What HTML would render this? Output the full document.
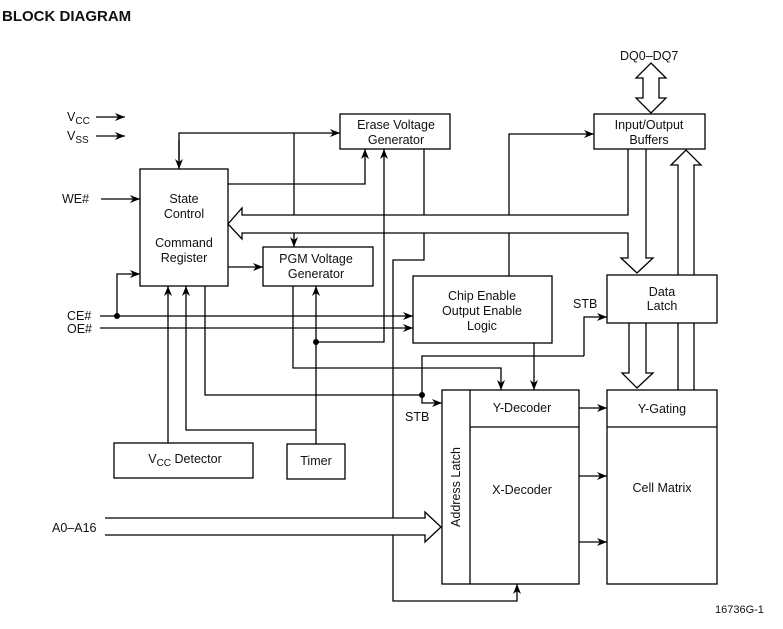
<!DOCTYPE html>
<html><head><style>body{margin:0;background:#fff}svg{display:block}text{font-family:"Liberation Sans",Arial,sans-serif;font-size:12.5px;fill:#111}</style></head>
<body>
<svg width="783" height="629" viewBox="0 0 783 629" xmlns="http://www.w3.org/2000/svg">
<defs><marker id="a" viewBox="0 0 10 8" refX="10" refY="4" markerWidth="10" markerHeight="8" orient="auto" markerUnits="userSpaceOnUse"><path d="M0,0L10,4L0,8L3,4Z" fill="#000"/></marker></defs>
<text x="2" y="21" style="font-size:15px;font-weight:bold">BLOCK DIAGRAM</text>
<g fill="none" stroke="#000" stroke-width="1.3">
<rect x="140" y="169" width="88" height="117"/>
<rect x="340" y="114" width="110" height="35"/>
<rect x="263" y="247" width="110" height="39"/>
<rect x="594" y="114" width="111" height="35"/>
<rect x="413" y="276" width="139" height="67"/>
<rect x="442" y="390" width="137" height="194"/>
<line x1="470" y1="390" x2="470" y2="584"/><line x1="470" y1="427" x2="579" y2="427"/>
<rect x="607" y="390" width="110" height="194"/>
<line x1="607" y1="427" x2="717" y2="427"/>
<rect x="114" y="443" width="139" height="35"/>
<rect x="287" y="444" width="58" height="35"/>
<line x1="96" y1="117" x2="125" y2="117" marker-end="url(#a)"/>
<line x1="96" y1="136" x2="125" y2="136" marker-end="url(#a)"/>
<line x1="101" y1="199" x2="140" y2="199" marker-end="url(#a)"/>
<line x1="100" y1="316" x2="413" y2="316" marker-end="url(#a)"/>
<line x1="100" y1="328" x2="413" y2="328" marker-end="url(#a)"/>
<polyline points="117,316 117,274 140,274" marker-end="url(#a)"/>
<polyline points="179,169 179,133 340,133" marker-end="url(#a)"/>
<line x1="179" y1="140" x2="179" y2="169" marker-end="url(#a)"/>
<line x1="294" y1="133" x2="294" y2="215"/>
<line x1="294" y1="233" x2="294" y2="247" marker-end="url(#a)"/>
<polyline points="228,184 365,184 365,149" marker-end="url(#a)"/>
<polyline points="316,342 384,342 384,149" marker-end="url(#a)"/>
<polyline points="424,149 424,215"/>
<polyline points="424,233 424,260 393,260 393,601 517,601 517,584" marker-end="url(#a)"/>
<path d="M628,149V215H242V208L228,224L242,239V233H628V258H621L637,273L653,258H646V149"/>
<polyline points="509,215 509,134 594,134" marker-end="url(#a)"/>
<line x1="509" y1="233" x2="509" y2="276"/>
<path d="M651,63L666,78H659V98H666L651,113L636,98H643V78H636Z"/>
<path d="M678,390V165H671L686,150L701,165H694V390"/>
<path d="M629,323V373H622L637,388L653,373H646V323"/>
<rect x="607" y="275" width="110" height="48" fill="#fff"/>
<line x1="228" y1="267" x2="263" y2="267" marker-end="url(#a)"/>
<polyline points="293,286 293,368 501,368 501,390" marker-end="url(#a)"/>
<line x1="534" y1="343" x2="534" y2="390" marker-end="url(#a)"/>
<line x1="316" y1="444" x2="316" y2="286" marker-end="url(#a)"/>
<polyline points="316,430 186,430 186,286" marker-end="url(#a)"/>
<line x1="168" y1="443" x2="168" y2="286" marker-end="url(#a)"/>
<polyline points="205,286 205,395 422,395"/>
<polyline points="584,356 584,317 607,317" marker-end="url(#a)"/>
<polyline points="584,356 422,356 422,403 442,403" marker-end="url(#a)"/>
<line x1="579" y1="408" x2="607" y2="408" marker-end="url(#a)"/>
<line x1="579" y1="476" x2="607" y2="476" marker-end="url(#a)"/>
<line x1="579" y1="542" x2="607" y2="542" marker-end="url(#a)"/>
<path d="M105,518H425V512L441,527L425,542V535H105" fill="#fff"/>
</g>
<g fill="#000"><circle cx="117" cy="316" r="3"/><circle cx="316" cy="342" r="3"/><circle cx="422" cy="395" r="3"/></g>
<text x="67" y="121">V<tspan dy="3" style="font-size:10px">CC</tspan></text>
<text x="67" y="140">V<tspan dy="3" style="font-size:10px">SS</tspan></text>
<text x="62" y="203">WE#</text>
<text x="67" y="320">CE#</text>
<text x="67" y="333">OE#</text>
<text x="52" y="532">A0–A16</text>
<text x="620" y="60">DQ0–DQ7</text>
<g text-anchor="middle">
<text x="184" y="203">State</text><text x="184" y="218">Control</text>
<text x="184" y="247">Command</text><text x="184" y="262">Register</text>
<text x="396" y="129">Erase Voltage</text><text x="396" y="144">Generator</text>
<text x="316" y="263">PGM Voltage</text><text x="316" y="278">Generator</text>
<text x="649" y="129">Input/Output</text><text x="649" y="144">Buffers</text>
<text x="482" y="300">Chip Enable</text><text x="482" y="315">Output Enable</text><text x="482" y="330">Logic</text>
<text x="662" y="296">Data</text><text x="662" y="310">Latch</text>
<text x="522" y="412">Y-Decoder</text>
<text x="662" y="413">Y-Gating</text>
<text x="522" y="494">X-Decoder</text>
<text x="662" y="492">Cell Matrix</text>
<text x="185" y="463">V<tspan dy="3" style="font-size:10px">CC</tspan><tspan dy="-3"> Detector</tspan></text>
<text x="316" y="465">Timer</text>
</g>
<text x="573" y="308">STB</text>
<text x="405" y="421">STB</text>
<text transform="translate(460,487) rotate(-90)" text-anchor="middle">Address Latch</text>
<text x="715" y="613" style="font-size:11px">16736G-1</text>
</svg>
</body></html>
